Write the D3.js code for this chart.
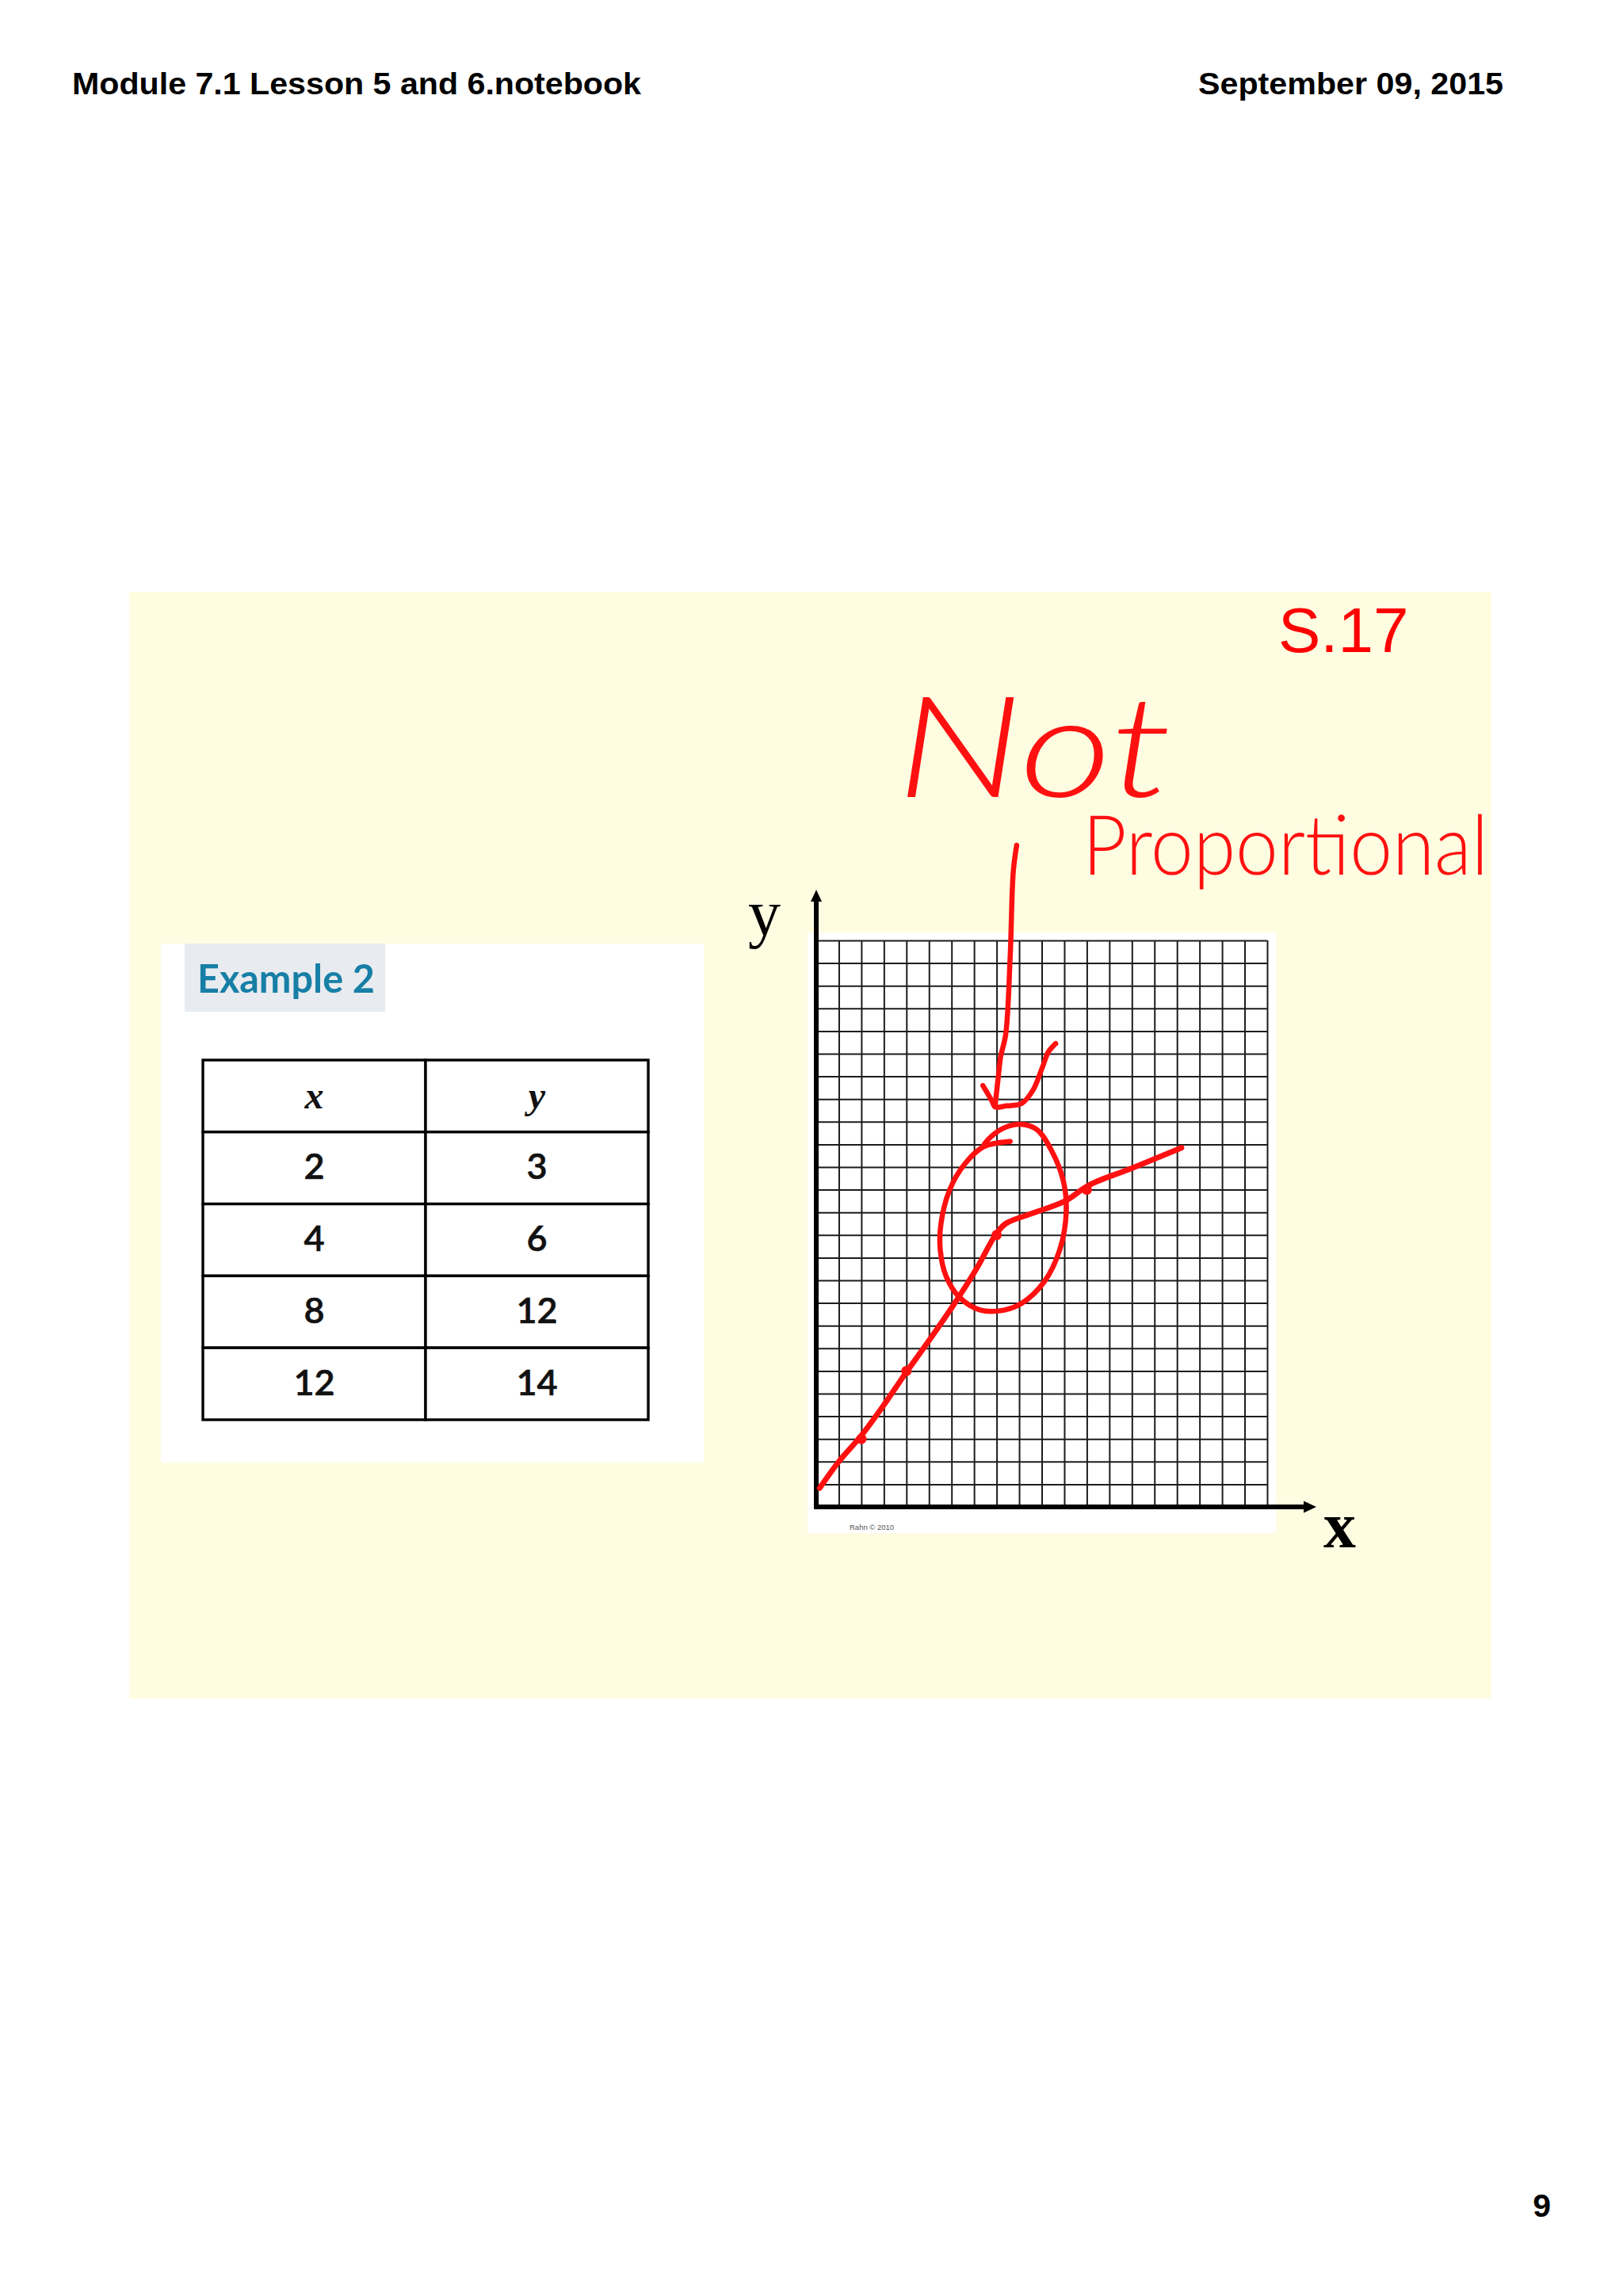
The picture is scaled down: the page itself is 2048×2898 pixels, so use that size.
<!DOCTYPE html>
<html>
<head>
<meta charset="utf-8">
<script src="https://cdn.jsdelivr.net/npm/d3@7"></script>
<style>
  html, body { margin: 0; padding: 0; background: #ffffff; }
  svg { display: block; }
</style>
</head>
<body>
<script>
// ---------- data ----------
const headerLeft = "Module 7.1 Lesson 5 and 6.notebook";
const headerRight = "September 09, 2015";
const pageNumber = "9";
const slideLabel = "S.17";
const exampleTitle = "Example 2";
const tableHeaders = ["x", "y"];
const tableX = [2, 4, 8, 12];
const tableY = [3, 6, 12, 14];
const gridCols = d3.range(1, 21);   // x grid units 1..20
const gridRows = d3.range(1, 26);   // y grid units 1..25
const noteWords = ["Not", "Proportional"];
const creditText = "Rahn \u00A9 2010";
// hand-drawn ink traced in grid units
const inkLine = [[0.15,0.83],[1.0,2.0],[2.0,3.15],[3.0,4.5],[4.0,5.95],[4.9,7.2],[6.08,8.9],[7.1,10.5],[7.95,12.0],[8.4,12.5],[9.6,12.96],[11.04,13.5],[12.1,14.2],[14.0,14.95],[16.2,15.85]];
const inkCircle = [[8.6,16.13],[7.43,15.9],[6.59,15.14],[5.92,14.0],[5.53,12.49],[5.5,11.35],[5.75,10.2],[6.34,9.26],[7.26,8.69],[8.1,8.65],[9.1,8.98],[10.1,9.92],[10.8,11.35],[11.09,13.05],[10.96,14.38],[10.45,15.7],[9.78,16.66],[9.03,16.89],[8.27,16.7],[7.6,16.19],[7.39,15.9]];
const inkArrow = [[8.89,29.2],[8.74,28.05],[8.6,24.25],[8.4,20.83],[8.18,19.88],[8.07,18.94],[7.93,17.7]];
const inkArrowHead = [[7.39,18.6],[7.8,17.9],[7.93,17.65],[8.44,17.7],[9.1,17.8],[9.6,18.37],[10.03,19.4],[10.29,20.07],[10.62,20.45]];

// ---------- layout ----------
const W = 2048, H = 2898;
const svg = d3.select("body").append("svg").attr("width", W).attr("height", H);

svg.append("rect").attr("x", 0).attr("y", 0).attr("width", W).attr("height", H).attr("fill", "#ffffff");

// headers
svg.append("text").attr("x", 91).attr("y", 119).attr("textLength", 718).attr("lengthAdjust", "spacingAndGlyphs")
  .attr("font-family", "Liberation Sans, Arial, sans-serif").attr("font-weight", "bold").attr("font-size", 39)
  .attr("fill", "#000").text(headerLeft);
svg.append("text").attr("x", 1512).attr("y", 119).attr("textLength", 385).attr("lengthAdjust", "spacingAndGlyphs")
  .attr("font-family", "Liberation Sans, Arial, sans-serif").attr("font-weight", "bold").attr("font-size", 39)
  .attr("fill", "#000").text(headerRight);
svg.append("text").attr("x", 1957).attr("y", 2798).attr("text-anchor", "end")
  .attr("font-family", "Liberation Sans, Arial, sans-serif").attr("font-weight", "bold").attr("font-size", 41)
  .attr("fill", "#000").text(pageNumber);

// slide background
svg.append("rect").attr("x", 163).attr("y", 747).attr("width", 1882 - 163).attr("height", 2144 - 747).attr("fill", "#fefde1");

svg.append("text").attr("x", 1613).attr("y", 823)
  .attr("font-family", "Liberation Sans, Arial, sans-serif").attr("font-size", 80).attr("fill", "#ff0000").text(slideLabel);

// ---------- table panel ----------
svg.append("rect").attr("x", 203).attr("y", 1191).attr("width", 888 - 203).attr("height", 1846 - 1191).attr("fill", "#ffffff");
svg.append("rect").attr("x", 233).attr("y", 1191).attr("width", 486 - 233).attr("height", 1277 - 1191).attr("fill", "#e8ebef");
svg.append("text").attr("x", 249).attr("y", 1253).attr("textLength", 224).attr("lengthAdjust", "spacingAndGlyphs")
  .attr("font-family", "Lato, 'Open Sans', sans-serif").attr("font-weight", "bold").attr("font-size", 50)
  .attr("fill", "#177fa6").text(exampleTitle);

const colScale = d3.scaleBand().domain(tableHeaders).range([256, 818]);
const rowScale = d3.scaleBand().domain(d3.range(tableX.length + 1)).range([1338, 1792]);
const tableRows = [tableHeaders].concat(tableX.map((v, i) => [String(v), String(tableY[i])]));
const tg = svg.append("g");
tableRows.forEach((row, ri) => {
  tableHeaders.forEach((h, ci) => {
    tg.append("rect").attr("x", colScale(h)).attr("y", rowScale(ri))
      .attr("width", colScale.bandwidth()).attr("height", rowScale.bandwidth())
      .attr("fill", "#fff").attr("stroke", "#000").attr("stroke-width", 3.4);
  });
});
tableRows.forEach((row, ri) => {
  tableHeaders.forEach((h, ci) => {
    const cx = colScale(h) + colScale.bandwidth() / 2;
    const cy = rowScale(ri) + rowScale.bandwidth() / 2;
    const t = tg.append("text").attr("x", cx).attr("text-anchor", "middle").attr("fill", "#111").text(row[ci]);
    if (ri === 0) {
      t.attr("y", cy + 16).attr("font-family", "Liberation Serif, 'DejaVu Serif', serif").attr("font-style", "italic")
        .attr("font-weight", "bold").attr("font-size", 48);
    } else {
      t.attr("y", cy + 14).attr("font-family", "Lato, 'Open Sans', sans-serif").attr("font-weight", 600).attr("font-size", 45)
        .attr("stroke", "#111").attr("stroke-width", 0.6);
    }
  });
});

// ---------- grid panel ----------
const x = d3.scaleLinear().domain([0, 20]).range([1030, 1599]);
const y = d3.scaleLinear().domain([0, 25]).range([1902, 1187]);

svg.append("rect").attr("x", 1019).attr("y", 1177).attr("width", 1610 - 1019).attr("height", 1935 - 1177).attr("fill", "#ffffff");

const gx = svg.append("g").attr("transform", `translate(0,${y(0)})`)
  .call(d3.axisBottom(x).tickValues(gridCols).tickSize(-(y(0) - y(25))).tickFormat(""));
const gy = svg.append("g").attr("transform", `translate(${x(0)},0)`)
  .call(d3.axisLeft(y).tickValues(gridRows).tickSize(-(x(20) - x(0))).tickFormat(""));
[gx, gy].forEach(g => {
  g.select(".domain").remove();
  g.selectAll(".tick line").attr("stroke", "#1c1c1c").attr("stroke-width", 2);
});

// axes with arrows
svg.append("line").attr("x1", x(0)).attr("y1", y(0) + 3).attr("x2", x(0)).attr("y2", y(25) - 50)
  .attr("stroke", "#000").attr("stroke-width", 6);
svg.append("path").attr("d", `M${x(0) - 7},${y(25) - 49} L${x(0) + 7},${y(25) - 49} L${x(0)},${y(25) - 64} Z`).attr("fill", "#000");
svg.append("line").attr("x1", x(0) - 3).attr("y1", y(0)).attr("x2", x(20) + 48).attr("y2", y(0))
  .attr("stroke", "#000").attr("stroke-width", 6);
svg.append("path").attr("d", `M${x(20) + 46},${y(0) - 7.5} L${x(20) + 46},${y(0) + 7.5} L${x(20) + 62},${y(0)} Z`).attr("fill", "#000");

svg.append("text").attr("x", 944).attr("y", 1180)
  .attr("font-family", "Liberation Serif, 'Times New Roman', serif").attr("font-size", 82).attr("fill", "#000").text("y");
svg.append("text").attr("x", 1670).attr("y", 1953)
  .attr("font-family", "Liberation Serif, 'Times New Roman', serif").attr("font-weight", "bold").attr("font-size", 82).attr("fill", "#000").text("x");
svg.append("text").attr("x", 1072).attr("y", 1931)
  .attr("font-family", "Liberation Sans, Arial, sans-serif").attr("font-size", 9.5).attr("fill", "#555").text(creditText);

// ---------- red ink ----------
const inkColor = "#ff1010";
const ink = svg.append("g").attr("fill", "none").attr("stroke", inkColor).attr("stroke-linecap", "round").attr("stroke-linejoin", "round");
const lineGen = d3.line().x(d => x(d[0])).y(d => y(d[1])).curve(d3.curveCatmullRom.alpha(0.5));

ink.append("path").attr("d", lineGen(inkLine)).attr("stroke-width", 7);
ink.append("path").attr("d", lineGen(inkCircle)).attr("stroke-width", 6.5);
ink.append("path").attr("d", lineGen(inkArrow)).attr("stroke-width", 6.5);
ink.append("path").attr("d", lineGen(inkArrowHead)).attr("stroke-width", 6.5);

svg.append("g").selectAll("circle").data(tableX.map((v, i) => [v, tableY[i]])).join("circle")
  .attr("cx", d => x(d[0])).attr("cy", d => y(d[1])).attr("r", 6.5).attr("fill", inkColor);

// handwritten words (as text)
svg.append("text").attr("x", 1131).attr("y", 1006).attr("textLength", 348).attr("lengthAdjust", "spacingAndGlyphs")
  .attr("font-family", "Lato, 'Noto Sans', sans-serif").attr("font-weight", 300).attr("font-style", "italic")
  .attr("font-size", 178).attr("fill", inkColor).text(noteWords[0]);
svg.append("text").attr("x", 1366).attr("y", 1104).attr("textLength", 512).attr("lengthAdjust", "spacingAndGlyphs")
  .attr("font-family", "Lato, 'Noto Sans', sans-serif").attr("font-weight", 300)
  .attr("font-size", 104).attr("fill", inkColor).text(noteWords[1]);
</script>
</body>
</html>
